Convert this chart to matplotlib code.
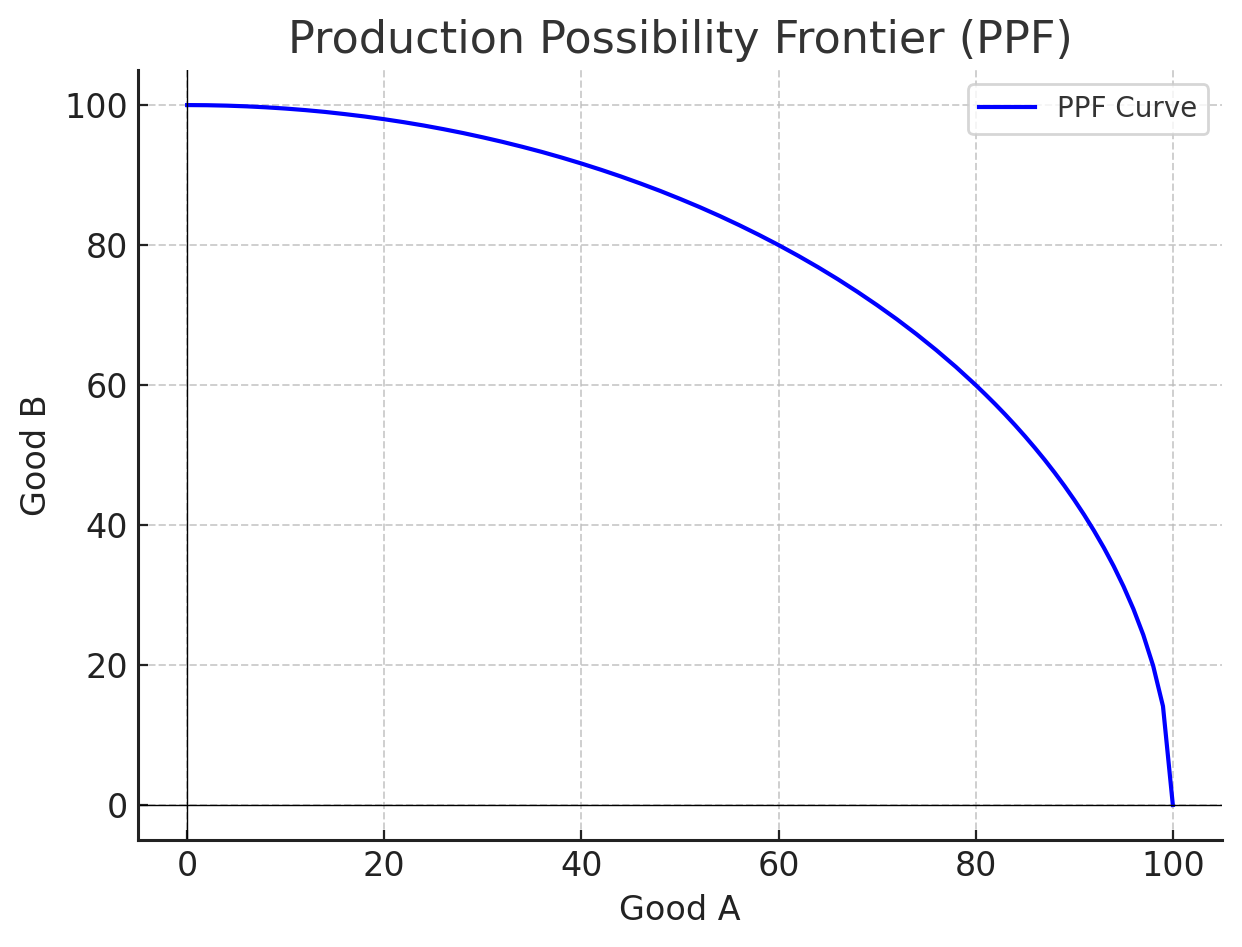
import matplotlib
matplotlib.use("Agg")
import matplotlib.pyplot as plt

# Values
good_a = [0, 2, 4, 6, 8, 10, 12, 14, 16, 18, 20, 22, 24, 26, 28, 30, 32, 34, 36, 38,
          40, 42, 44, 46, 48, 50, 52, 54, 56, 58, 60, 62, 64, 66, 68, 70, 72, 74, 76,
          78, 80, 81, 82, 83, 84, 85, 86, 87, 88, 89, 90, 91, 92, 93, 94, 95, 96, 97,
          98, 99, 100]
good_b = [100, 99.98, 99.92, 99.82, 99.68, 99.50, 99.28, 99.02, 98.71, 98.37,
          97.98, 97.55, 97.08, 96.56, 96.00, 95.39, 94.74, 94.04, 93.30, 92.50,
          91.65, 90.75, 89.80, 88.79, 87.73, 86.60, 85.42, 84.17, 82.85, 81.46,
          80.00, 78.46, 76.84, 75.13, 73.32, 71.41, 69.40, 67.26, 64.99, 62.58,
          60.00, 58.64, 57.24, 55.78, 54.26, 52.68, 51.03, 49.31, 47.50, 45.60,
          43.59, 41.46, 39.19, 36.76, 34.12, 31.22, 28.00, 24.31, 19.90, 14.11, 0]

fig, ax = plt.subplots(figsize=(6.21, 4.735), dpi=200)

ax.plot(good_a, good_b, color="blue", linewidth=1.5, label="PPF Curve")
ax.axhline(0, color="black", linewidth=0.5)
ax.axvline(0, color="black", linewidth=0.5)

ax.set_title("Production Possibility Frontier (PPF)", fontsize=16, color="#333333")
ax.set_xlabel("Good A", fontsize=12, color="#222222")
ax.set_ylabel("Good B", fontsize=12, color="#222222")
ax.tick_params(labelsize=12, colors="#222222", direction="in")
ax.grid(True, linestyle="--", alpha=0.7, color="#bbbbbb", linewidth=0.7)

ax.spines["top"].set_visible(False)
ax.spines["right"].set_visible(False)
for s in ("left", "bottom"):
    ax.spines[s].set_linewidth(1.1)
    ax.spines[s].set_color("#222222")

leg = ax.legend(fontsize=10, loc="upper right")
for t in leg.get_texts():
    t.set_color("#333333")

fig.subplots_adjust(left=0.111, right=0.984, top=0.926, bottom=0.113)
fig.savefig("out.png", dpi=200)
